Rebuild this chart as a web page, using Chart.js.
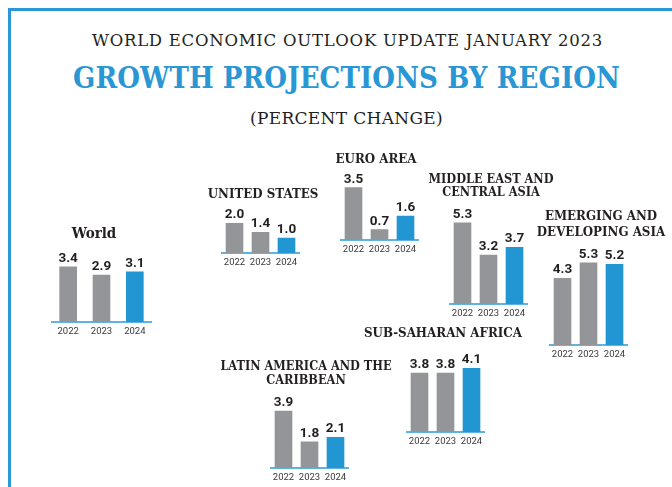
<!DOCTYPE html>
<html>
<head>
<meta charset="utf-8">
<title>Growth Projections by Region</title>
<script src="https://cdn.jsdelivr.net/npm/chart.js@4.4.1/dist/chart.umd.min.js"></script>
<style>
  html, body { margin: 0; padding: 0; background: #ffffff; width: 672px; height: 487px; overflow: hidden; }
  #frame { position: absolute; left: 8px; top: 8px; width: 720px; height: 540px;
           border-left: 3px solid #2a98d6; border-top: 3px solid #2a98d6; }
  .head { position: absolute; white-space: nowrap; line-height: 1; transform: translateY(-50%); color: #231f20; }
  #h1 { font-family: 'DejaVu Serif', serif; font-size: 16.5px; }
  #h2 { font-family: 'DejaVu Serif Condensed', 'DejaVu Serif', serif; font-weight: bold; font-size: 29px; color: #2a97d5; }
  #h3 { font-family: 'DejaVu Serif', serif; font-size: 17px; }
  canvas { position: absolute; }
</style>
</head>
<body>
<div id="frame"></div>
<div class="head" id="h1">WORLD ECONOMIC OUTLOOK UPDATE JANUARY 2023</div>
<div class="head" id="h2">GROWTH PROJECTIONS BY REGION</div>
<div class="head" id="h3">(PERCENT CHANGE)</div>
<script>
// Real GDP growth projections, percent change
const years = ['2022', '2023', '2024'];
const world = [3.4, 2.9, 3.1];
const unitedStates = [2.0, 1.4, 1.0];
const euroArea = [3.5, 0.7, 1.6];
const middleEastCentralAsia = [5.3, 3.2, 3.7];
const emergingDevelopingAsia = [4.3, 5.3, 5.2];
const latinAmericaCaribbean = [3.9, 1.8, 2.1];
const subSaharanAfrica = [3.8, 3.8, 4.1];

const titleWorld = ['World'];
const titleUS = ['UNITED STATES'];
const titleEuro = ['EURO AREA'];
const titleMECA = ['MIDDLE EAST AND', 'CENTRAL ASIA'];
const titleEDA = ['EMERGING AND', 'DEVELOPING ASIA'];
const titleLAC = ['LATIN AMERICA AND THE', 'CARIBBEAN'];
const titleSSA = ['SUB-SAHARAN AFRICA'];

const barColors = ['#939598', '#939598', '#2196d3'];
const textColor = '#231f20';
const titleFont = "'DejaVu Serif Condensed', 'DejaVu Serif', serif";
const valueFont = "Roboto, 'DejaVu Sans', sans-serif";
const yearFont = "Roboto, 'DejaVu Sans', sans-serif";

// Page headings, spread to their set widths
function placeHeading(id, left, centerY, width) {
  const el = document.getElementById(id);
  el.style.left = left + 'px';
  el.style.top = centerY + 'px';
  const natural = el.getBoundingClientRect().width;
  const n = el.textContent.length;
  el.style.letterSpacing = ((width - natural) / n) + 'px';
}
placeHeading('h1', 92, 41, 511);
placeHeading('h2', 73, 77.5, 547);
placeHeading('h3', 250, 117.5, 193);

// Value labels above each bar
const valueLabels = {
  id: 'valueLabels',
  afterDatasetsDraw(chart) {
    const { ctx } = chart;
    const meta = chart.getDatasetMeta(0);
    const data = chart.data.datasets[0].data;
    ctx.save();
    ctx.font = 'bold 13.5px ' + valueFont;
    ctx.fillStyle = textColor;
    ctx.textAlign = 'center';
    ctx.textBaseline = 'alphabetic';
    meta.data.forEach((bar, i) => {
      ctx.fillText(data[i].toFixed(1), bar.x, bar.y - 5);
    });
    ctx.restore();
  }
};

// Panel placement: plot span, zero line, pixels per percentage point, title anchor
const panels = [
  { title: titleWorld, values: world, plotLeft: 51.5, plotRight: 151.5, zero: 322, ppu: 16.2, titleX: 94, titleY: 234, lh: 14, fs: 15 },
  { title: titleUS, values: unitedStates, plotLeft: 221.5, plotRight: 299.5, zero: 253, ppu: 14.8, titleX: 262.5, titleY: 195, lh: 14, fs: 13.2 },
  { title: titleEuro, values: euroArea, plotLeft: 340.5, plotRight: 418.5, zero: 240, ppu: 15, titleX: 375.5, titleY: 160, lh: 14, fs: 13.2 },
  { title: titleMECA, values: middleEastCentralAsia, plotLeft: 449.5, plotRight: 527.5, zero: 304, ppu: 15.3, titleX: 490.5, titleY: 179.5, lh: 13, fs: 12.6 },
  { title: titleEDA, values: emergingDevelopingAsia, plotLeft: 549.5, plotRight: 627.5, zero: 345, ppu: 15.5, titleX: 601, titleY: 216.5, lh: 16, fs: 13.2 },
  { title: titleLAC, values: latinAmericaCaribbean, plotLeft: 270.5, plotRight: 348.5, zero: 468, ppu: 14.6, titleX: 306, titleY: 367, lh: 14, fs: 12.6 },
  { title: titleSSA, values: subSaharanAfrica, plotLeft: 406.5, plotRight: 484.5, zero: 432, ppu: 15.5, titleX: 443, titleY: 333.5, lh: 14, fs: 13.2 }
];

const tickSize = 9.5, tickLH = 1.2, tickPad = 3.5;
const axisH = tickSize * tickLH + tickPad * 2;
const titlePadBottom = 2;

// Invisible side axes that reserve room beside the plot
function spacerAxis(position, size) {
  return {
    position,
    display: true,
    grid: { display: false, drawTicks: false },
    border: { display: false },
    ticks: { display: false },
    afterFit(scale) { scale.width = size; }
  };
}

panels.forEach(p => {
  const half = Math.max(p.titleX - p.plotLeft, p.plotRight - p.titleX, 96);
  const left = Math.round(p.titleX - half);
  const width = Math.round(2 * half);
  const top = Math.round(p.titleY - p.lh / 2);
  const exactH = p.zero - top + axisH;
  const height = Math.ceil(exactH);
  const titleBlock = p.title.length * p.lh + titlePadBottom;
  const yMax = (p.zero - top - titleBlock) / p.ppu;

  const canvas = document.createElement('canvas');
  canvas.width = width;
  canvas.height = height;
  canvas.style.left = left + 'px';
  canvas.style.top = top + 'px';
  canvas.style.width = width + 'px';
  canvas.style.height = height + 'px';
  document.body.appendChild(canvas);

  new Chart(canvas, {
    type: 'bar',
    data: {
      labels: years,
      datasets: [{
        data: p.values,
        backgroundColor: barColors,
        barThickness: 17,
        borderWidth: 0,
        yAxisID: 'y'
      }]
    },
    plugins: [valueLabels],
    options: {
      responsive: false,
      animation: false,
      devicePixelRatio: 1,
      layout: { padding: { top: 0, left: 0, right: 0, bottom: height - exactH } },
      plugins: {
        legend: { display: false },
        tooltip: { enabled: false },
        title: {
          display: true,
          text: p.title,
          color: textColor,
          align: 'center',
          padding: { top: 0, bottom: titlePadBottom },
          font: { family: titleFont, size: p.fs, weight: 'bold', lineHeight: p.lh + 'px' }
        }
      },
      scales: {
        x: {
          grid: { display: false, drawTicks: false },
          border: { display: true, color: '#5db4e4', width: 2 },
          ticks: {
            color: '#3a3a3a',
            padding: tickPad,
            maxRotation: 0,
            minRotation: 0,
            autoSkip: false,
            font: { family: yearFont, size: tickSize, lineHeight: tickLH }
          }
        },
        y: Object.assign(spacerAxis('left', p.plotLeft - left), { min: 0, max: yMax }),
        yRight: spacerAxis('right', left + width - p.plotRight)
      }
    }
  });
});
</script>
</body>
</html>
